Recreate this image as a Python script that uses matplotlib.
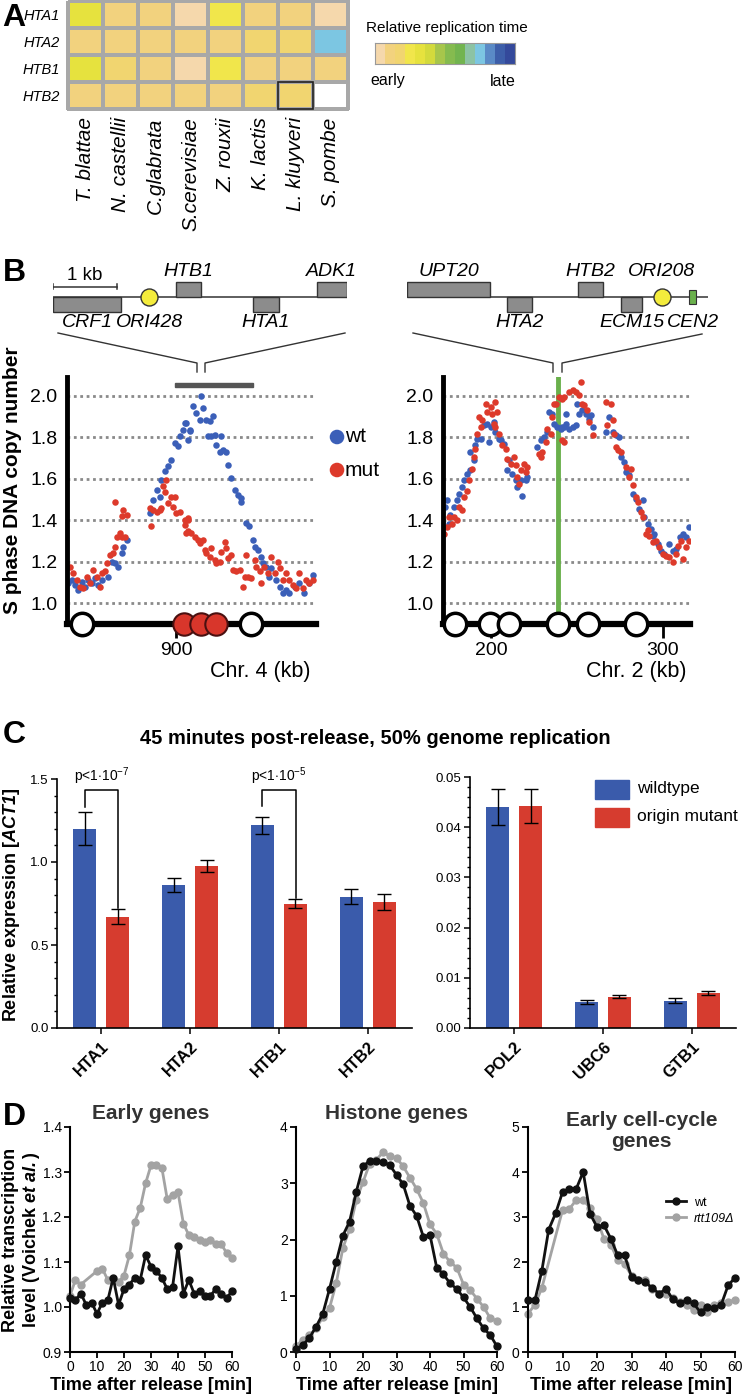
import matplotlib
matplotlib.use("Agg")
import matplotlib.pyplot as plt
import numpy as np
from matplotlib.colors import ListedColormap
from matplotlib.patches import Rectangle
from matplotlib.ticker import MultipleLocator

plt.rcParams['font.family'] = ['Liberation Sans', 'DejaVu Sans']
plt.rcParams['mathtext.fontset'] = 'custom'
plt.rcParams['mathtext.rm'] = 'Liberation Sans'
plt.rcParams['mathtext.it'] = 'Liberation Sans:italic'
plt.rcParams['mathtext.bf'] = 'Liberation Sans:bold'
plt.rcParams['mathtext.bfit'] = 'Liberation Sans:italic:bold'

# ---------------- data ----------------
# A: relative replication time (index on the 14-step colour scale)
species = ['T. blattae', 'N. castellii', 'C.glabrata', 'S.cerevisiae',
           'Z. rouxii', 'K. lactis', 'L. kluyveri', 'S. pombe']
histones = ['HTA1', 'HTA2', 'HTB1', 'HTB2']
rep_time = np.array([
    [4, 1, 1, 0, 3, 1, 1, 0],
    [1, 1, 1, 1, 1, 2, 2, 10],
    [4, 2, 1, 0, 3, 1, 1, 1],
    [1, 1, 1, 1, 1, 2, 2, np.nan],
])
rep_colors = ['#f5d8ac', '#f2d27e', '#f1d570', '#f1e64b', '#e6e23e', '#d3da3c',
              '#a7c64b', '#85bb4f', '#72b44f', '#8cc3a4', '#7cc6e2', '#5a8ac6',
              '#3d5ea9', '#34499b']

# B: S phase copy number (kb, copy number)
chr4_wt = np.array([
    [836.8, 1.096], [838.7, 1.112], [840.7, 1.088], [842.6, 1.064], [844.6, 1.104],
    [846.5, 1.080], [848.5, 1.112], [850.4, 1.096], [852.4, 1.120], [854.3, 1.088],
    [856.3, 1.112], [860.2, 1.128], [862.1, 1.201], [864.1, 1.193], [866.0, 1.177],
    [868.0, 1.241], [869.0, 1.273], [870.9, 1.305], [884.9, 1.434], [886.5, 1.498],
    [888.5, 1.546], [890.4, 1.514], [891.4, 1.595], [893.3, 1.635], [895.3, 1.659],
    [897.2, 1.691], [899.2, 1.772], [901.1, 1.756], [902.1, 1.804], [904.1, 1.836],
    [905.0, 1.868], [907.0, 1.788], [907.9, 1.828], [906.0, 1.868], [907.9, 1.836],
    [909.9, 1.948], [911.8, 1.916], [913.8, 1.884], [914.8, 1.997], [915.7, 1.940],
    [917.7, 1.884], [919.6, 1.876], [921.6, 1.900], [918.7, 1.804], [920.6, 1.804],
    [922.6, 1.812], [923.5, 1.763], [925.5, 1.731], [926.5, 1.804], [927.4, 1.739],
    [929.4, 1.731], [930.4, 1.667], [932.3, 1.603], [934.3, 1.546], [936.2, 1.522],
    [938.2, 1.506], [937.8, 1.490], [941.1, 1.386], [943.0, 1.370], [945.0, 1.305],
    [946.0, 1.273], [947.9, 1.257], [949.9, 1.225], [950.8, 1.193], [952.8, 1.177],
    [955.7, 1.169], [954.7, 1.128], [958.6, 1.112], [960.6, 1.080], [962.5, 1.048],
    [964.5, 1.064], [966.4, 1.048], [969.4, 1.080], [972.3, 1.096], [975.2, 1.048],
    [978.1, 1.096], [980.1, 1.136],
])
chr4_mut = np.array([
    [837.8, 1.177], [839.7, 1.144], [841.7, 1.112], [843.6, 1.080], [845.6, 1.072],
    [847.5, 1.128], [849.5, 1.096], [851.4, 1.161], [853.4, 1.128], [855.3, 1.080],
    [856.3, 1.144], [858.2, 1.153], [859.2, 1.193], [861.2, 1.233], [863.1, 1.241],
    [864.1, 1.273], [865.1, 1.321], [867.0, 1.337], [868.0, 1.321], [869.9, 1.321],
    [864.1, 1.490], [868.0, 1.418], [868.9, 1.450], [870.9, 1.426], [884.5, 1.458],
    [885.5, 1.370], [886.5, 1.450], [888.5, 1.442], [890.4, 1.450], [891.4, 1.458],
    [892.4, 1.563], [893.3, 1.538], [894.3, 1.595], [895.3, 1.482], [897.2, 1.514],
    [899.2, 1.514], [898.2, 1.466], [900.2, 1.434], [902.1, 1.442], [905.0, 1.378],
    [906.0, 1.337], [907.0, 1.402], [905.0, 1.402], [907.0, 1.410], [907.0, 1.346],
    [908.9, 1.337], [910.9, 1.321], [912.8, 1.305], [913.8, 1.289], [915.7, 1.305],
    [916.7, 1.257], [917.7, 1.241], [919.6, 1.225], [920.6, 1.265], [922.6, 1.209],
    [923.5, 1.193], [925.5, 1.201], [926.5, 1.249], [928.4, 1.297], [929.4, 1.265],
    [930.4, 1.217], [932.3, 1.233], [933.3, 1.161], [935.2, 1.153], [937.2, 1.161],
    [939.1, 1.080], [940.1, 1.128], [942.1, 1.128], [944.0, 1.120], [941.1, 1.233],
    [946.0, 1.209], [946.9, 1.177], [948.9, 1.153], [949.9, 1.096], [951.8, 1.177],
    [953.8, 1.144], [955.7, 1.225], [957.7, 1.144], [959.6, 1.201], [960.6, 1.169],
    [962.5, 1.112], [964.5, 1.144], [966.4, 1.112], [968.4, 1.088], [970.3, 1.072],
    [972.3, 1.144], [974.2, 1.072], [976.2, 1.112], [978.1, 1.096], [980.1, 1.112],
])
chr2_wt = np.array([
    [173.4, 1.463], [174.4, 1.495], [175.3, 1.383], [176.3, 1.423], [178.3, 1.463],
    [180.2, 1.495], [181.2, 1.527], [183.1, 1.560], [184.1, 1.592], [186.1, 1.624],
    [188.0, 1.640], [188.0, 1.728], [190.0, 1.688], [190.9, 1.761], [191.9, 1.793],
    [193.9, 1.793], [195.8, 1.857], [197.8, 1.865], [198.7, 1.777], [199.7, 1.849],
    [201.7, 1.873], [202.6, 1.825], [204.6, 1.793], [205.6, 1.785], [207.5, 1.769],
    [209.5, 1.640], [210.4, 1.688], [212.4, 1.624], [214.3, 1.592], [215.3, 1.560],
    [217.3, 1.592], [218.2, 1.519], [220.2, 1.592], [221.2, 1.608], [227.0, 1.752],
    [229.0, 1.785], [230.9, 1.801], [232.9, 1.825], [233.8, 1.921], [235.8, 1.913],
    [236.8, 1.865], [238.7, 1.849], [240.7, 1.841], [242.6, 1.849], [243.6, 1.913],
    [241.6, 1.849], [243.6, 1.865], [245.5, 1.841], [247.5, 1.849], [249.4, 1.857],
    [250.4, 1.961], [251.4, 1.913], [253.3, 1.929], [255.3, 1.913], [257.2, 1.889],
    [258.2, 1.905], [259.2, 1.849], [266.9, 1.825], [268.9, 1.897], [270.9, 1.825],
    [272.8, 1.809], [274.8, 1.801], [275.7, 1.704], [277.7, 1.680], [278.6, 1.632],
    [280.6, 1.616], [282.6, 1.527], [284.5, 1.503], [286.5, 1.455], [288.4, 1.495],
    [289.4, 1.415], [291.3, 1.383], [293.3, 1.359], [294.3, 1.326], [295.2, 1.334],
    [297.2, 1.286], [299.1, 1.254], [301.1, 1.238], [304.0, 1.286], [306.0, 1.254],
    [307.9, 1.262], [309.9, 1.318], [311.8, 1.334], [313.8, 1.318], [315.5, 1.367],
])
chr2_mut = np.array([
    [172.4, 1.334], [174.4, 1.367], [175.3, 1.415], [177.3, 1.383], [178.3, 1.415],
    [180.2, 1.399], [181.2, 1.463], [183.1, 1.447], [184.1, 1.511], [186.1, 1.543],
    [187.0, 1.592], [189.0, 1.648], [189.9, 1.704], [190.9, 1.744], [191.9, 1.817],
    [192.9, 1.897], [193.9, 1.849], [194.8, 1.881], [196.8, 1.961], [197.8, 1.921],
    [199.7, 1.945], [200.7, 1.913], [202.6, 1.969], [203.6, 1.921], [201.7, 1.865],
    [202.6, 1.849], [204.6, 1.817], [206.5, 1.761], [208.5, 1.744], [209.5, 1.696],
    [211.4, 1.672], [213.4, 1.704], [214.3, 1.664], [215.3, 1.608], [216.3, 1.576],
    [217.3, 1.640], [219.2, 1.672], [220.2, 1.632], [221.2, 1.656], [228.0, 1.720],
    [229.0, 1.704], [229.9, 1.728], [231.9, 1.777], [232.9, 1.841], [234.8, 1.817],
    [235.8, 1.897], [236.8, 1.961], [237.7, 1.961], [239.7, 1.994], [241.6, 1.986],
    [242.6, 1.777], [241.6, 1.785], [242.6, 1.994], [245.5, 2.018], [247.5, 2.026],
    [249.4, 2.018], [251.4, 2.002], [252.3, 2.066], [253.3, 1.961], [254.3, 1.953],
    [256.2, 1.929], [257.2, 1.873], [259.2, 1.809], [266.9, 1.969], [269.9, 1.961],
    [267.9, 1.857], [270.9, 1.881], [271.8, 1.817], [272.8, 1.752], [273.8, 1.736],
    [275.7, 1.728], [278.6, 1.656], [280.6, 1.608], [281.6, 1.648], [282.6, 1.568],
    [284.5, 1.511], [285.5, 1.487], [287.4, 1.439], [288.4, 1.415], [290.4, 1.334],
    [291.3, 1.351], [292.3, 1.326], [294.3, 1.294], [296.2, 1.302], [298.2, 1.270],
    [300.1, 1.238], [302.1, 1.230], [304.0, 1.222], [306.0, 1.198], [307.9, 1.238],
    [308.9, 1.278], [310.8, 1.302], [311.8, 1.214], [313.8, 1.270], [315.7, 1.302],
])
chr4_origins_active = [845, 944]
chr4_origins_deleted = [904.6, 914.8, 923.1]
chr2_origins = [179, 199.5, 210.2, 239.1, 256.6, 284.7]
cen2_kb = 239
chr4_region = (899.2, 944.8)

# B gene maps (kb from left end of map, strand: +1 above, -1 below)
map4_genes = [('CRF1', 0.0, 1.06, -1), ('HTB1', 1.92, 2.31, 1),
              ('HTA1', 3.12, 3.53, -1), ('ADK1', 4.12, 4.59, 1)]
map4_ori = ('ORI428', 1.5)
map2_genes = [('UPT20', 0.0, 1.30, 1), ('HTA2', 1.56, 1.95, -1),
              ('HTB2', 2.67, 3.06, 1), ('ECM15', 3.34, 3.67, -1)]
map2_ori = ('ORI208', 3.98)
map2_cen = ('CEN2', 4.41, 4.52)

# C: qPCR expression relative to ACT1
genes_hist = ['HTA1', 'HTA2', 'HTB1', 'HTB2']
wt_hist = [1.20, 0.86, 1.22, 0.79]
wt_hist_err = [0.10, 0.043, 0.05, 0.045]
mut_hist = [0.67, 0.976, 0.75, 0.76]
mut_hist_err = [0.045, 0.036, 0.03, 0.05]
genes_ctrl = ['POL2', 'UBC6', 'GTB1']
wt_ctrl = [0.0441, 0.0052, 0.0054]
wt_ctrl_err = [0.0036, 0.0004, 0.0005]
mut_ctrl = [0.0443, 0.0062, 0.0069]
mut_ctrl_err = [0.0034, 0.0003, 0.0004]

# D: transcription time courses
t_wt = [0, 2, 4, 6, 8, 10, 12, 14, 16, 18, 20, 22, 24, 26, 28, 30,
        32, 34, 36, 38, 40, 42, 44, 46, 48, 50, 52, 54, 56, 58, 60]
t_gap = [0, 2, 4, 10, 12, 14, 16, 18, 20, 22, 24, 26, 28, 30,
         32, 34, 36, 38, 40, 42, 44, 46, 48, 50, 52, 54, 56, 58, 60]
early_wt = [1.02, 1.015, 1.03, 1.005, 1.01, 0.985, 1.01, 1.015, 1.065, 1.005, 1.04,
            1.05, 1.065, 1.06, 1.115, 1.09, 1.08, 1.065, 1.04, 1.045, 1.135, 1.03,
            1.06, 1.03, 1.035, 1.025, 1.025, 1.04, 1.03, 1.02, 1.035]
early_rtt = [1.025, 1.06, 1.05, 1.08, 1.085, 1.06, 1.06, 1.055, 1.07, 1.115, 1.19,
             1.22, 1.275, 1.315, 1.315, 1.31, 1.24, 1.25, 1.255, 1.185, 1.16, 1.155,
             1.15, 1.145, 1.15, 1.14, 1.14, 1.12, 1.11]
hist_wt = [0.05, 0.12, 0.25, 0.45, 0.68, 1.12, 1.6, 2.07, 2.32, 2.85, 3.3, 3.4, 3.4,
           3.38, 3.32, 3.15, 2.98, 2.6, 2.42, 2.05, 2.08, 1.5, 1.38, 1.22, 1.12, 0.97,
           0.8, 0.6, 0.42, 0.3, 0.1]
hist_rtt = [0.1, 0.22, 0.3, 0.42, 0.62, 0.78, 1.22, 1.85, 2.18, 2.7, 3.02, 3.35, 3.42,
            3.55, 3.48, 3.45, 3.3, 3.1, 2.9, 2.65, 2.27, 2.1, 1.75, 1.6, 1.5, 1.2, 1.1,
            0.95, 0.8, 0.6, 0.55]
cc_wt = [1.15, 1.15, 1.8, 2.72, 3.08, 3.55, 3.63, 3.63, 4.0, 3.07, 2.78, 2.82, 2.52,
         2.15, 2.15, 1.67, 1.6, 1.55, 1.42, 1.3, 1.4, 1.17, 1.08, 1.15, 1.08, 0.88,
         1.0, 0.98, 1.05, 1.48, 1.65]
cc_rtt = [0.85, 1.05, 1.42, 3.15, 3.18, 3.38, 3.38, 3.2, 2.95, 2.52, 2.38, 2.05, 1.95,
          1.7, 1.6, 1.6, 1.4, 1.3, 1.3, 1.2, 1.12, 1.05, 0.93, 1.05, 0.9, 1.05, 1.1,
          1.12, 1.15]

BLUE = '#3a5bab'
RED = '#d63c2f'
PT_BLUE = '#3b5fb8'
PT_RED = '#dd3a2b'
GREEN = '#6ab04c'

W, H = 750, 1395
fig = plt.figure(figsize=(7.5, 13.95), dpi=100)


def box(x0, y0, x1, y1):
    return [x0 / W, 1 - y1 / H, (x1 - x0) / W, (y1 - y0) / H]


ov = fig.add_axes([0, 0, 1, 1], zorder=5)
ov.set_xlim(0, W)
ov.set_ylim(H, 0)
ov.axis('off')
ov.patch.set_alpha(0)

for letter, (lx, ly) in zip('ABCD', [(2, 18), (3, 273), (3, 735), (3, 1117)]):
    ov.text(lx, ly, letter, fontsize=23, fontweight='bold', va='center', ha='left')

# ---------------- A ----------------
cmap = ListedColormap(rep_colors)
cmap.set_bad('white')
axA = fig.add_axes(box(68, 1, 348, 109))
mesh = axA.pcolormesh(np.ma.masked_invalid(rep_time), cmap=cmap, vmin=-0.5, vmax=13.5,
                      edgecolors='#a8a8a8', linewidth=1.5)
mesh.set_clip_on(False)
axA.add_patch(Rectangle((6, 3), 1, 1, fill=False, ec='#222', lw=1.2, clip_on=False))
axA.set_xlim(0, 8)
axA.set_ylim(4, 0)
axA.set_yticks(np.arange(4) + 0.5, histones, fontsize=10.5, style='italic')
axA.set_xticks(np.arange(8) + 0.5, species, rotation=90, fontsize=15, style='italic')
axA.tick_params(length=0, pad=6)
for s in axA.spines.values():
    s.set_visible(False)

axCb = fig.add_axes(box(375, 43, 515, 64))
axCb.imshow(np.arange(14)[None, :], cmap=cmap, aspect='auto', vmin=-0.5, vmax=13.5)
axCb.set_xticks([])
axCb.set_yticks([])
for s in axCb.spines.values():
    s.set_color('#999')
ov.text(366, 28, 'Relative replication time', fontsize=11, va='center')
ov.text(370, 81, 'early', fontsize=11.5, va='center')
ov.text(516, 81, 'late', fontsize=11.5, va='center', ha='right')

# ---------------- B gene maps ----------------
def gene_map(rect, length, genes, ori, cen=None):
    ax = fig.add_axes(box(*rect))
    ax.set_xlim(0, length)
    ax.set_ylim(-1, 1)
    ax.axis('off')
    ax.plot([0, length], [0, 0], color='#333', lw=1.1, zorder=1)
    for name, g0, g1, strand in genes:
        y0 = 0 if strand > 0 else -0.42
        ax.add_patch(Rectangle((g0, y0), g1 - g0, 0.42, fc='#8c8c8c', ec='#333', lw=1, zorder=2))
        ax.text((g0 + g1) / 2, 0.74 * strand, name, ha='center', va='center',
                fontsize=14, style='italic')
    ax.scatter([ori[1]], [0], s=150, c='#f4ec3c', edgecolors='#333', linewidths=1, zorder=3)
    ax.text(ori[1], -0.74 if cen is None else 0.74, ori[0], ha='center', va='center',
            fontsize=14, style='italic')
    if cen is not None:
        ax.add_patch(Rectangle((cen[1], -0.2), cen[2] - cen[1], 0.4, fc=GREEN, ec='#333',
                               lw=0.8, zorder=3))
        ax.text((cen[1] + cen[2]) / 2, -0.74, cen[0], ha='center', va='center',
                fontsize=14, style='italic')
    return ax


axM4 = gene_map((53, 262, 347, 332), 4.59, map4_genes, map4_ori)
axM4.plot([0, 1], [0.3, 0.3], color='#333', lw=1.1)
axM4.plot([0, 0], [0.22, 0.38], color='#333', lw=1.1)
axM4.plot([1, 1], [0.22, 0.38], color='#333', lw=1.1)
axM4.text(0.5, 0.62, '1 kb', ha='center', va='center', fontsize=13.5)
gene_map((407, 262, 708, 332), 4.70, map2_genes, map2_ori, map2_cen)

for pts in ([(58, 333), (197, 363), (197, 372)], [(345, 333), (205, 363), (205, 372)],
            [(413, 333), (553, 363), (553, 372)], [(702, 334), (562, 363), (562, 372)]):
    xs, ys = zip(*pts)
    ov.plot(xs, ys, color='#333', lw=1)

# ---------------- B scatter ----------------
def copy_axes(rect, xlim, wt, mut, ticks):
    ax = fig.add_axes(box(*rect))
    ax.set_xlim(*xlim)
    ax.set_ylim(0.9, 2.09)
    for yv in [1.0, 1.2, 1.4, 1.6, 1.8, 2.0]:
        ax.axhline(yv, color='#8a8a8a', lw=2, ls=(0, (1, 1.3)), zorder=0)
    ax.scatter(wt[:, 0], wt[:, 1], s=22, color=PT_BLUE, linewidths=0, zorder=2)
    ax.scatter(mut[:, 0], mut[:, 1], s=22, color=PT_RED, linewidths=0, zorder=2)
    ax.spines[['top', 'right']].set_visible(False)
    ax.spines['left'].set_linewidth(3.5)
    ax.spines['bottom'].set_linewidth(4.5)
    ax.set_yticks([1.0, 1.2, 1.4, 1.6, 1.8, 2.0], ['1.0', '1.2', '1.4', '1.6', '1.8', '2.0'])
    ax.tick_params(axis='y', length=0, labelsize=14, pad=7)
    ax.set_xticks(ticks, [str(t) for t in ticks])
    ax.tick_params(axis='x', length=10, width=2, labelsize=14, pad=3)
    return ax


axB1 = copy_axes((67, 377, 316, 624), (836, 982), chr4_wt, chr4_mut, [900])
axB1.add_patch(Rectangle((chr4_region[0], 2.04), chr4_region[1] - chr4_region[0], 0.022,
                         color='#555', zorder=3))
axB1.scatter(chr4_origins_active, [0.9] * 2, s=260, c='white', edgecolors='black',
             linewidths=2.5, clip_on=False, zorder=4)
axB1.scatter(chr4_origins_deleted, [0.9] * 3, s=260, c='#d8362b', edgecolors='#4a1010',
             linewidths=1.5, clip_on=False, zorder=4)

axB2 = copy_axes((443, 377, 690, 624), (172, 316), chr2_wt, chr2_mut, [200, 300])
axB2.axvline(cen2_kb, color=GREEN, lw=3.5, zorder=1)
axB2.scatter(chr2_origins, [0.9] * len(chr2_origins), s=260, c='white', edgecolors='black',
             linewidths=2.5, clip_on=False, zorder=4)

ov.text(310, 672, 'Chr. 4 (kb)', fontsize=15.5, ha='right', va='center')
ov.text(686, 672, 'Chr. 2 (kb)', fontsize=15.5, ha='right', va='center')
ov.text(13, 480, 'S phase DNA copy number', rotation=90, fontsize=15, fontweight='bold',
        ha='center', va='center')
ov.scatter([337, 337], [437, 470], s=110, c=[PT_BLUE, PT_RED], linewidths=0)
ov.text(345, 437, 'wt', fontsize=15, va='center')
ov.text(345, 470, 'mut', fontsize=15, va='center')

# ---------------- C ----------------
ov.text(375, 738, '45 minutes post-release, 50% genome replication', fontsize=14.5,
        fontweight='bold', ha='center', va='center')


def expr_axes(rect, genes, wt, wte, mu, mue, ylim, major, minor, fmt):
    ax = fig.add_axes(box(*rect))
    x = np.arange(len(genes))
    ekw = dict(lw=1, capsize=5, capthick=1, ecolor='black')
    ax.bar(x - 0.185, wt, 0.26, color=BLUE, yerr=wte, error_kw=ekw)
    ax.bar(x + 0.185, mu, 0.26, color=RED, yerr=mue, error_kw=ekw)
    ax.set_xlim(-0.5, len(genes) - 0.5)
    ax.set_ylim(*ylim)
    ax.yaxis.set_major_locator(MultipleLocator(major))
    ax.yaxis.set_minor_locator(MultipleLocator(minor))
    ax.yaxis.set_major_formatter(fmt)
    ax.spines[['top', 'right']].set_visible(False)
    ax.spines[['left', 'bottom']].set_linewidth(1.2)
    ax.tick_params(axis='y', which='major', length=4, width=1.1, labelsize=9.5, pad=2)
    ax.tick_params(axis='y', which='minor', length=2.5, width=1)
    ax.set_xticks(x)
    ax.set_xticklabels(genes, rotation=45, ha='right', rotation_mode='anchor',
                       fontsize=12, fontweight='bold')
    ax.tick_params(axis='x', length=4, width=1.1, pad=4)
    return ax


axC1 = expr_axes((57, 779, 412, 1028), genes_hist, wt_hist, wt_hist_err, mut_hist,
                 mut_hist_err, (0, 1.5), 0.5, 0.1, '{x:.1f}')
axC2 = expr_axes((470, 777, 736, 1028), genes_ctrl, wt_ctrl, wt_ctrl_err, mut_ctrl,
                 mut_ctrl_err, (0, 0.05), 0.01, 0.002, '{x:.2f}')
for g, y_left, label in [(0, 1.33, r'p<1$\cdot$10$^{-7}$'), (2, 1.34, r'p<1$\cdot$10$^{-5}$')]:
    y_right = mut_hist[g] + mut_hist_err[g] + 0.005
    axC1.plot([g - 0.19, g - 0.19, g + 0.19, g + 0.19], [y_left, 1.434, 1.434, y_right],
              color='black', lw=1.1)
    axC1.text(g, 1.45, label, ha='center', va='bottom', fontsize=10)
ov.text(12, 905, r'Relative expression [$\mathbfit{ACT1}$]', rotation=90, fontsize=13,
        fontweight='bold', ha='center', va='center')
ov.add_patch(Rectangle((595, 780), 34, 19, color=BLUE))
ov.add_patch(Rectangle((595, 808), 34, 19, color=RED))
ov.text(637, 789, 'wildtype', fontsize=12.5, va='center')
ov.text(637, 817, 'origin mutant', fontsize=12.5, va='center')

# ---------------- D ----------------
def time_axes(rect, wt, rtt, t_rtt, ylim, major, fmt):
    ax = fig.add_axes(box(*rect))
    ax.plot(t_rtt, rtt, '-o', color='#a3a3a3', lw=2, ms=5, clip_on=False, label='rtt109Δ')
    ax.plot(t_wt, wt, '-o', color='#111', lw=2, ms=5, clip_on=False, zorder=3, label='wt')
    ax.set_xlim(0, 60)
    ax.set_ylim(*ylim)
    ax.xaxis.set_major_locator(MultipleLocator(10))
    ax.yaxis.set_major_locator(MultipleLocator(major))
    ax.yaxis.set_major_formatter(fmt)
    ax.spines[['top', 'right']].set_visible(False)
    ax.spines[['left', 'bottom']].set_linewidth(1.5)
    ax.tick_params(length=4, width=1.3, labelsize=10, pad=2)
    ax.set_xlabel('Time after release [min]', fontsize=13, fontweight='bold', labelpad=2)
    return ax


axD1 = time_axes((70, 1127, 232, 1352), early_wt, early_rtt, t_gap, (0.9, 1.4), 0.1, '{x:.1f}')
axD2 = time_axes((296, 1127, 497, 1352), hist_wt, hist_rtt, t_wt, (0, 4), 1, '{x:.0f}')
axD3 = time_axes((528, 1127, 735, 1352), cc_wt, cc_rtt, t_gap, (0, 5), 1, '{x:.0f}')
axD1.set_title('Early genes', fontsize=15, fontweight='bold', color='#333', pad=6)
axD2.set_title('Histone genes', fontsize=15, fontweight='bold', color='#333', pad=6)
axD3.text(0.55, 1.07, 'Early cell-cycle\ngenes', transform=axD3.transAxes, fontsize=15,
          fontweight='bold', color='#333', ha='center', va='top', linespacing=1.1)
h, l = axD3.get_legend_handles_labels()
leg = axD3.legend(h[::-1], l[::-1], loc='upper right', bbox_to_anchor=(1.05, 0.74),
                  frameon=False, fontsize=9, handlelength=1.6, handletextpad=0.6,
                  labelspacing=0.3)
leg.get_texts()[1].set_style('italic')
ov.text(22, 1240, 'Relative transcription\nlevel (Voichek $\\mathbfit{et\\ al.}$)',
        rotation=90, fontsize=13, fontweight='bold', ha='center', va='center',
        linespacing=1.1)

fig.savefig('out.png', dpi=100)
